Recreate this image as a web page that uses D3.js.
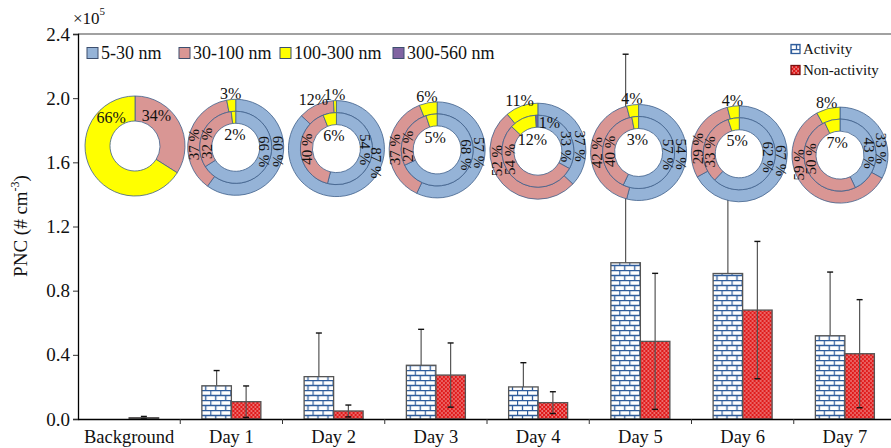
<!DOCTYPE html>
<html>
<head>
<meta charset="utf-8">
<script src="https://cdn.jsdelivr.net/npm/d3@7"></script>
<style>
  body { margin: 0; background: #fff; }
  svg { display: block; font-family: "Liberation Serif", "Times New Roman", serif; }
</style>
</head>
<body>
<div id="chart"></div>
<script>
// bar data (x10^5 # cm-3)
const categories = ["Background", "Day 1", "Day 2", "Day 3", "Day 4", "Day 5", "Day 6", "Day 7"]
const series = ["Activity", "Non-activity"]
const activityMean = [0, 0.207, 0.264, 0.335, 0.200, 0.974, 0.907, 0.519]
const activityErr = [0, 0.095, 0.272, 0.224, 0.151, 1.30, 0.843, 0.397]
const nonActivityMean = [0.008, 0.108, 0.050, 0.274, 0.102, 0.484, 0.679, 0.407]
const nonActivityErr = [0.008, 0.098, 0.037, 0.200, 0.068, 0.424, 0.428, 0.337]
const yTicks = [0, 0.4, 0.8, 1.2, 1.6, 2.0, 2.4]

// size distribution donuts (%), order: 5-30, 30-100, 100-300, 300-560 nm
const sizeBins = ["5-30 nm", "30-100 nm", "100-300 nm", "300-560 nm"]
const binColors = ["#95b3d7", "#d99694", "#ffff00", "#8064a2"]
const backgroundRing = [0, 34, 66, 0]
const outerRing = [
  [60, 37, 3, 0], [87, 12, 1, 0], [57, 37, 6, 0], [37, 52, 11, 0],
  [54, 42, 4, 0], [67, 29, 4, 0], [33, 59, 8, 0]
]
const innerRing = [
  [66, 32, 2, 0], [54, 40, 6, 0], [68, 27, 5, 0], [33, 54, 12, 1],
  [57, 40, 3, 0], [62, 33, 5, 0], [43, 50, 7, 0]
]

const width = 891, height = 448
const margin = {top: 34, left: 78, bottom: 29}
const plotRight = 896

const svg = d3.select("#chart").append("svg")
  .attr("width", width).attr("height", height)

const defs = svg.append("defs")
// brick pattern for Activity
const brick = defs.append("pattern").attr("id", "brick")
  .attr("patternUnits", "userSpaceOnUse").attr("width", 10).attr("height", 10)
brick.append("rect").attr("width", 10).attr("height", 10).attr("fill", "#fff")
brick.append("path")
  .attr("d", "M0,0.5H10M0,5.5H10M0.5,0.5V5.5M5.5,5.5V10.5")
  .attr("stroke", "#2f5d9c").attr("stroke-width", 1.3).attr("fill", "none")
// dotted pattern for Non-activity
const dots = defs.append("pattern").attr("id", "dots")
  .attr("patternUnits", "userSpaceOnUse").attr("width", 4).attr("height", 4)
dots.append("rect").attr("width", 4).attr("height", 4).attr("fill", "#e01b1b")
dots.append("rect").attr("x", 0.5).attr("y", 0.5).attr("width", 1.3).attr("height", 1).attr("fill", "#fff")
dots.append("rect").attr("x", 2.5).attr("y", 2.5).attr("width", 1.3).attr("height", 1).attr("fill", "#fff")

const y = d3.scaleLinear().domain([0, 2.4]).range([height - margin.bottom, margin.top])
const x0 = d3.scaleBand().domain(categories).range([margin.left, plotRight])
const x1 = d3.scaleBand().domain(series).range([0, x0.bandwidth()]).paddingOuter(0.733)

const barRows = categories.map((c, i) => ({
  cat: c,
  vals: [
    {s: "Activity", v: activityMean[i], e: activityErr[i]},
    {s: "Non-activity", v: nonActivityMean[i], e: nonActivityErr[i]}
  ]
}))

// top border
svg.append("line")
  .attr("x1", margin.left).attr("x2", width)
  .attr("y1", y(2.4)).attr("y2", y(2.4))
  .attr("stroke", "#444").attr("stroke-width", 1.2)

// bars
const groups = svg.append("g").selectAll("g").data(barRows).join("g")
  .attr("transform", d => `translate(${x0(d.cat)},0)`)
groups.selectAll("rect").data(d => d.vals.filter(v => v.v > 0)).join("rect")
  .attr("x", d => x1(d.s))
  .attr("y", d => y(d.v))
  .attr("width", x1.bandwidth())
  .attr("height", d => y(0) - y(d.v))
  .attr("fill", d => d.s === "Activity" ? "url(#brick)" : "url(#dots)")
  .attr("stroke", "#555").attr("stroke-width", 1.3)

// error bars
const errG = groups.selectAll("g.err").data(d => d.vals.filter(v => v.e > 0)).join("g").attr("class", "err")
errG.append("line")
  .attr("x1", d => x1(d.s) + x1.bandwidth() / 2).attr("x2", d => x1(d.s) + x1.bandwidth() / 2)
  .attr("y1", d => d.s === "Activity" ? y(d.v) : y(Math.max(0, d.v - d.e)))
  .attr("y2", d => y(d.v + d.e))
  .attr("stroke", "#555").attr("stroke-width", 1.2)
errG.append("line")
  .attr("x1", d => x1(d.s) + x1.bandwidth() / 2 - 3).attr("x2", d => x1(d.s) + x1.bandwidth() / 2 + 3)
  .attr("y1", d => y(d.v + d.e)).attr("y2", d => y(d.v + d.e))
  .attr("stroke", "#111").attr("stroke-width", 1.4)
errG.filter(d => d.s !== "Activity").append("line")
  .attr("x1", d => x1(d.s) + x1.bandwidth() / 2 - 3).attr("x2", d => x1(d.s) + x1.bandwidth() / 2 + 3)
  .attr("y1", d => y(Math.max(0, d.v - d.e))).attr("y2", d => y(Math.max(0, d.v - d.e)))
  .attr("stroke", "#111").attr("stroke-width", 1.4)

// axes
const yAxis = svg.append("g").attr("transform", `translate(${margin.left},0)`)
  .call(d3.axisLeft(y).tickValues(yTicks).tickFormat(d3.format(".1f")).tickSize(5))
yAxis.select(".domain").attr("stroke", "#000").attr("stroke-width", 1.3)
yAxis.selectAll(".tick line").attr("stroke", "#333")
yAxis.selectAll("text").attr("font-size", 19).attr("font-family", "Liberation Serif").attr("fill", "#111").attr("x", -8)

const xAxis = svg.append("g").attr("transform", `translate(0,${y(0)})`)
  .call(d3.axisBottom(x0).tickSize(0).tickPadding(11))
xAxis.select(".domain").attr("stroke", "#000").attr("stroke-width", 1.3)
xAxis.selectAll("text").attr("font-size", 18.5).attr("font-family", "Liberation Serif").attr("fill", "#111")
svg.append("g").selectAll("line").data(categories.slice(1)).join("line")
  .attr("x1", d => x0(d)).attr("x2", d => x0(d))
  .attr("y1", y(0)).attr("y2", y(0) + 5)
  .attr("stroke", "#333")

// y label
const yLab = svg.append("text")
  .attr("transform", "translate(27,226) rotate(-90)")
  .attr("text-anchor", "middle").attr("font-size", 19).attr("fill", "#111")
yLab.append("tspan").text("PNC (# cm")
yLab.append("tspan").attr("font-size", 12).attr("dy", -8).text("-3")
yLab.append("tspan").attr("dy", 8).text(")")

const expo = svg.append("text").attr("x", 73).attr("y", 24).attr("font-size", 17).attr("fill", "#111")
expo.append("tspan").text("×10")
expo.append("tspan").attr("font-size", 11).attr("dy", -9).text("5")

// donuts
const cxScale = d3.scalePoint().domain(categories).range([135, 840])
const pie = d3.pie().sort(null).startAngle(0).endAngle(2 * Math.PI)
const ringStroke = "#3f5f8a"
const fmtRot = d => d.value + " %"
const fmtPlain = d => d.value + "%"

function drawRing(g, values, rIn, rOut) {
  const arcs = pie(values).map((a, k) => Object.assign(a, {k}))
  const arc = d3.arc().innerRadius(rIn).outerRadius(rOut)
  g.selectAll(null).data(arcs.filter(a => a.value > 0)).join("path")
    .attr("d", arc)
    .attr("fill", a => binColors[a.k])
    .attr("stroke", ringStroke).attr("stroke-width", 0.8)
  return arcs.filter(a => a.value > 0)
}

const donutG = svg.append("g")
categories.forEach((c, i) => {
  const g = donutG.append("g")
    .attr("transform", `translate(${cxScale(c)},${146 + i * 1.3})`)
  if (i === 0) {
    g.append("circle").attr("r", 25).attr("fill", "#fff")
    const arcs = drawRing(g, backgroundRing, 25, 50)
    g.selectAll("text").data(arcs).join("text")
      .attr("x", a => 37 * Math.sin(a.k === 1 ? 0.62 : -0.7))
      .attr("y", a => -37 * Math.cos(a.k === 1 ? 0.62 : -0.7))
      .attr("text-anchor", "middle").attr("dominant-baseline", "central")
      .attr("font-size", 16).attr("fill", "#111")
      .text(fmtPlain)
    return
  }
  const rHole = 24, rMid = 36, rOut = 48
  g.append("circle").attr("r", rHole).attr("fill", "#fff")
  const rings = [
    {arcs: drawRing(g, outerRing[i - 1], rMid, rOut), outer: true},
    {arcs: drawRing(g, innerRing[i - 1], rHole, rMid), outer: false}
  ]
  rings.forEach(ring => {
    ring.arcs.forEach(a => {
      const mid = (a.startAngle + a.endAngle) / 2
      let r, ang, rot = 0, label = fmtPlain(a), fs = 16
      if (a.value >= 20) {
        const base = a.k === 0 ? Math.PI / 2 : 3 * Math.PI / 2
        ang = base + (mid - base) * 0.3
        r = ring.outer ? 42 : 29
        rot = a.k === 0 ? 90 : -90
        label = fmtRot(a)
        fs = 15
      } else if (ring.outer) {
        ang = mid; r = rOut + 6
      } else if (a.k === 3) {
        ang = 0.38; r = 31
      } else {
        ang = mid; r = 13
      }
      const px = r * Math.sin(ang), py = -r * Math.cos(ang)
      g.append("text")
        .attr("transform", `translate(${px},${py}) rotate(${rot})`)
        .attr("text-anchor", "middle").attr("dominant-baseline", "central")
        .attr("font-size", fs).attr("fill", "#111")
        .text(label)
    })
  })
})

// size legend
const sizeLegX = [87, 179, 280, 393]
const sizeLeg = svg.append("g").selectAll("g").data(sizeBins).join("g")
  .attr("transform", (d, i) => `translate(${sizeLegX[i]},53)`)
sizeLeg.append("rect").attr("x", 0).attr("y", -5.5).attr("width", 11).attr("height", 11)
  .attr("fill", (d, i) => binColors[i]).attr("stroke", "#3d4f6e").attr("stroke-width", 1)
sizeLeg.append("text").attr("x", 14).attr("dominant-baseline", "central")
  .attr("font-size", 18).attr("fill", "#111").text(d => d)

// series legend
const serLeg = svg.append("g").selectAll("g").data(series).join("g")
  .attr("transform", (d, i) => `translate(791,${49 + i * 21})`)
serLeg.append("rect").attr("x", 0).attr("y", -4.5).attr("width", 9).attr("height", 9)
  .attr("fill", d => d === "Activity" ? "url(#brick)" : "url(#dots)")
  .attr("stroke", d => d === "Activity" ? "#2f5d9c" : "#7a1010").attr("stroke-width", 1.3)
serLeg.append("text").attr("x", 12).attr("dominant-baseline", "central")
  .attr("font-size", 15).attr("fill", "#111").text(d => d)
</script>
</body>
</html>
